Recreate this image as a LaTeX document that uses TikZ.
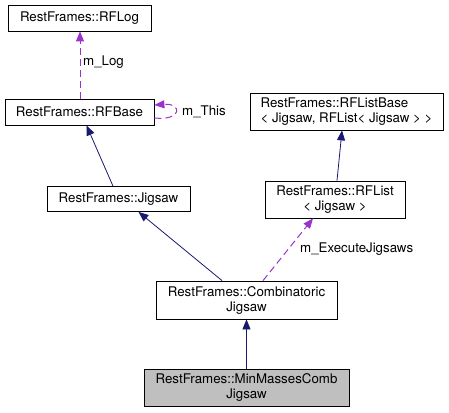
\documentclass[tikz,border=0pt]{standalone}
\usepackage{fontspec}
\setmainfont{TeX Gyre Heros}
\usepackage{xcolor}
\usepackage{tikz}
\usetikzlibrary{arrows.meta,positioning}

\definecolor{inhblue}{RGB}{25,25,112}
\definecolor{usepurple}{RGB}{154,50,205}

\begin{document}
\begin{tikzpicture}[
  x=1pt,y=-1pt,
  cls/.style={draw,rectangle,line width=0.8pt,inner sep=0pt,font=\fontsize{13.3}{15}\selectfont,align=center},
  cur/.style={cls,fill=black!25},
  inh/.style={-{Triangle[length=10pt,width=8pt]},line width=0.8pt,inhblue},
  use/.style={-{Triangle[length=10pt,width=8pt]},line width=1pt,usepurple,dash pattern=on 7pt off 4pt},
  lbl/.style={anchor=west,inner sep=0pt,font=\fontsize{13.3}{15}\selectfont}
]
\useasboundingbox (0,0) rectangle (449,412);

% classes
\node[cls,minimum width=143pt,minimum height=26pt] (rflog) at (79.5,18) {RestFrames::RFLog};
\node[cls,minimum width=149pt,minimum height=26pt] (rfbase) at (79.5,112) {RestFrames::RFBase};
\node[cls,minimum width=143pt,minimum height=25pt] (jigsaw) at (118.5,199) {RestFrames::Jigsaw};
\node[cls,minimum width=193pt,minimum height=37pt,align=left] (listbase) at (346.5,111.5) {RestFrames::RFListBase\\< Jigsaw, RFList< Jigsaw > >};
\node[cls,minimum width=140pt,minimum height=37pt] (rflist) at (335,199.5) {RestFrames::RFList\\< Jigsaw >};
\node[cls,minimum width=181pt,minimum height=38pt] (combi) at (246.5,300) {RestFrames::Combinatoric\\Jigsaw};
\node[cur,minimum width=205pt,minimum height=37pt] (minmass) at (246.5,387.5) {RestFrames::MinMassesComb\\Jigsaw};

% inheritance
\draw[inh] ([xshift=-5.5pt]jigsaw.north) -- ([xshift=7pt]rfbase.south);
\draw[inh] ([xshift=-24.5pt]combi.north) -- ([xshift=20pt]jigsaw.south);
\draw[inh] (minmass) -- (combi);
\draw[inh] ([xshift=2pt]rflist.north) -- ([xshift=-4.5pt]listbase.south);

% usage
\draw[use] ([xshift=0.5pt]rfbase.north) -- ([xshift=0.5pt]rflog.south);
\draw[use] ([yshift=-6pt]rfbase.east) .. controls ([xshift=28pt,yshift=-9pt]rfbase.east) and ([xshift=28pt,yshift=9pt]rfbase.east) .. ([yshift=7pt]rfbase.east);
\draw[use] ([xshift=16.5pt]combi.north) -- ([xshift=-22pt]rflist.south);

\node[lbl] (llog) at (83,62) {m\_Log};
\node[lbl] (lthis) at (182,112) {m\_This};
\node[lbl] (lexec) at (300,249) {m\_ExecuteJigsaws};

\end{tikzpicture}
\end{document}
